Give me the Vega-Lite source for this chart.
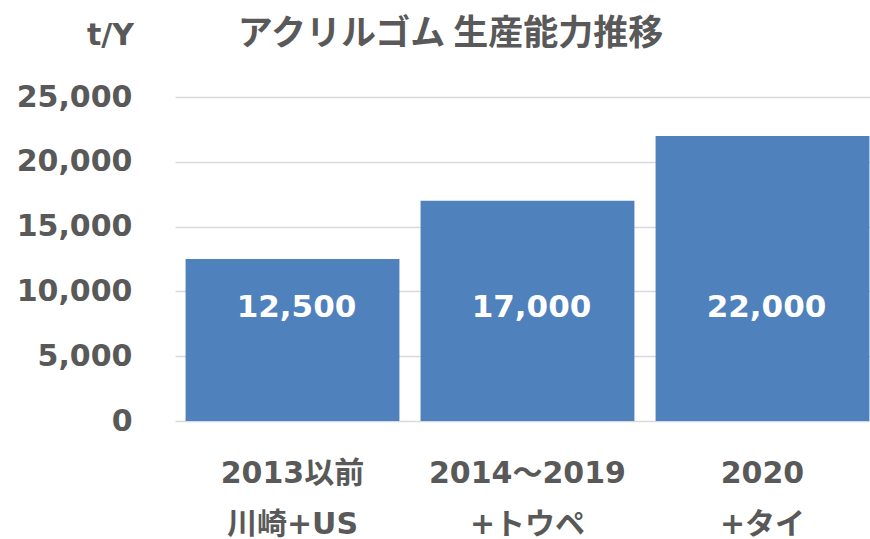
{
  "$schema": "https://vega.github.io/schema/vega-lite/v6.json",
  "width": 705,
  "height": 324,
  "autosize": {"type": "none"},
  "padding": {"left": 175, "top": 97, "right": 0, "bottom": 118},
  "background": "white",
  "title": {
    "text": "アクリルゴム 生産能力推移",
    "font": "Noto Sans CJK JP",
    "fontWeight": "bold",
    "fontSize": 35,
    "color": "#595959",
    "anchor": "middle",
    "frame": "group",
    "dx": -77,
    "offset": -32
  },
  "data": {
    "values": [
      {"period": "2013以前\n川崎+US", "capacity": 12500},
      {"period": "2014～2019\n+トウペ", "capacity": 17000},
      {"period": "2020\n+タイ", "capacity": 22000}
    ]
  },
  "config": {
    "view": {"stroke": null},
    "font": "DejaVu Sans"
  },
  "layer": [
    {
      "mark": {"type": "bar", "color": "#4F81BD"},
      "encoding": {
        "x": {
          "field": "period",
          "type": "nominal",
          "sort": null,
          "scale": {"paddingInner": 0.09, "paddingOuter": 0.045},
          "axis": {
            "title": null,
            "labelAngle": 0,
            "labelExpr": "split(datum.label, '\\n')",
            "labelFont": "DejaVu Sans, Noto Sans CJK JP",
            "labelFontWeight": "bold",
            "labelFontSize": 30,
            "labelColor": "#595959",
            "labelLineHeight": 51,
            "labelPadding": 37,
            "labelBaseline": "top",
            "labelLimit": 0,
            "ticks": false,
            "domain": false
          }
        },
        "y": {
          "field": "capacity",
          "type": "quantitative",
          "scale": {"domain": [0, 25000], "nice": false},
          "axis": {
            "values": [0, 5000, 10000, 15000, 20000, 25000],
            "format": ",d",
            "title": "t/Y",
            "titleAngle": 0,
            "titleX": -65,
            "titleY": -62,
            "titleAlign": "center",
            "titleBaseline": "middle",
            "titleFont": "DejaVu Sans",
            "titleFontWeight": "bold",
            "titleFontSize": 30,
            "titleColor": "#595959",
            "labelFont": "DejaVu Sans",
            "labelFontWeight": "bold",
            "labelFontSize": 30,
            "labelColor": "#595959",
            "labelPadding": 43,
            "ticks": false,
            "domain": false,
            "gridColor": "#D9D9D9",
            "gridWidth": 1.5
          }
        }
      }
    },
    {
      "mark": {"type": "text", "color": "white", "fontWeight": "bold", "fontSize": 31, "font": "DejaVu Sans", "baseline": "middle", "dx": 4},
      "encoding": {
        "x": {"field": "period", "type": "nominal", "sort": null},
        "y": {"datum": 8750},
        "text": {"field": "capacity", "type": "quantitative", "format": ",d"}
      }
    }
  ]
}
